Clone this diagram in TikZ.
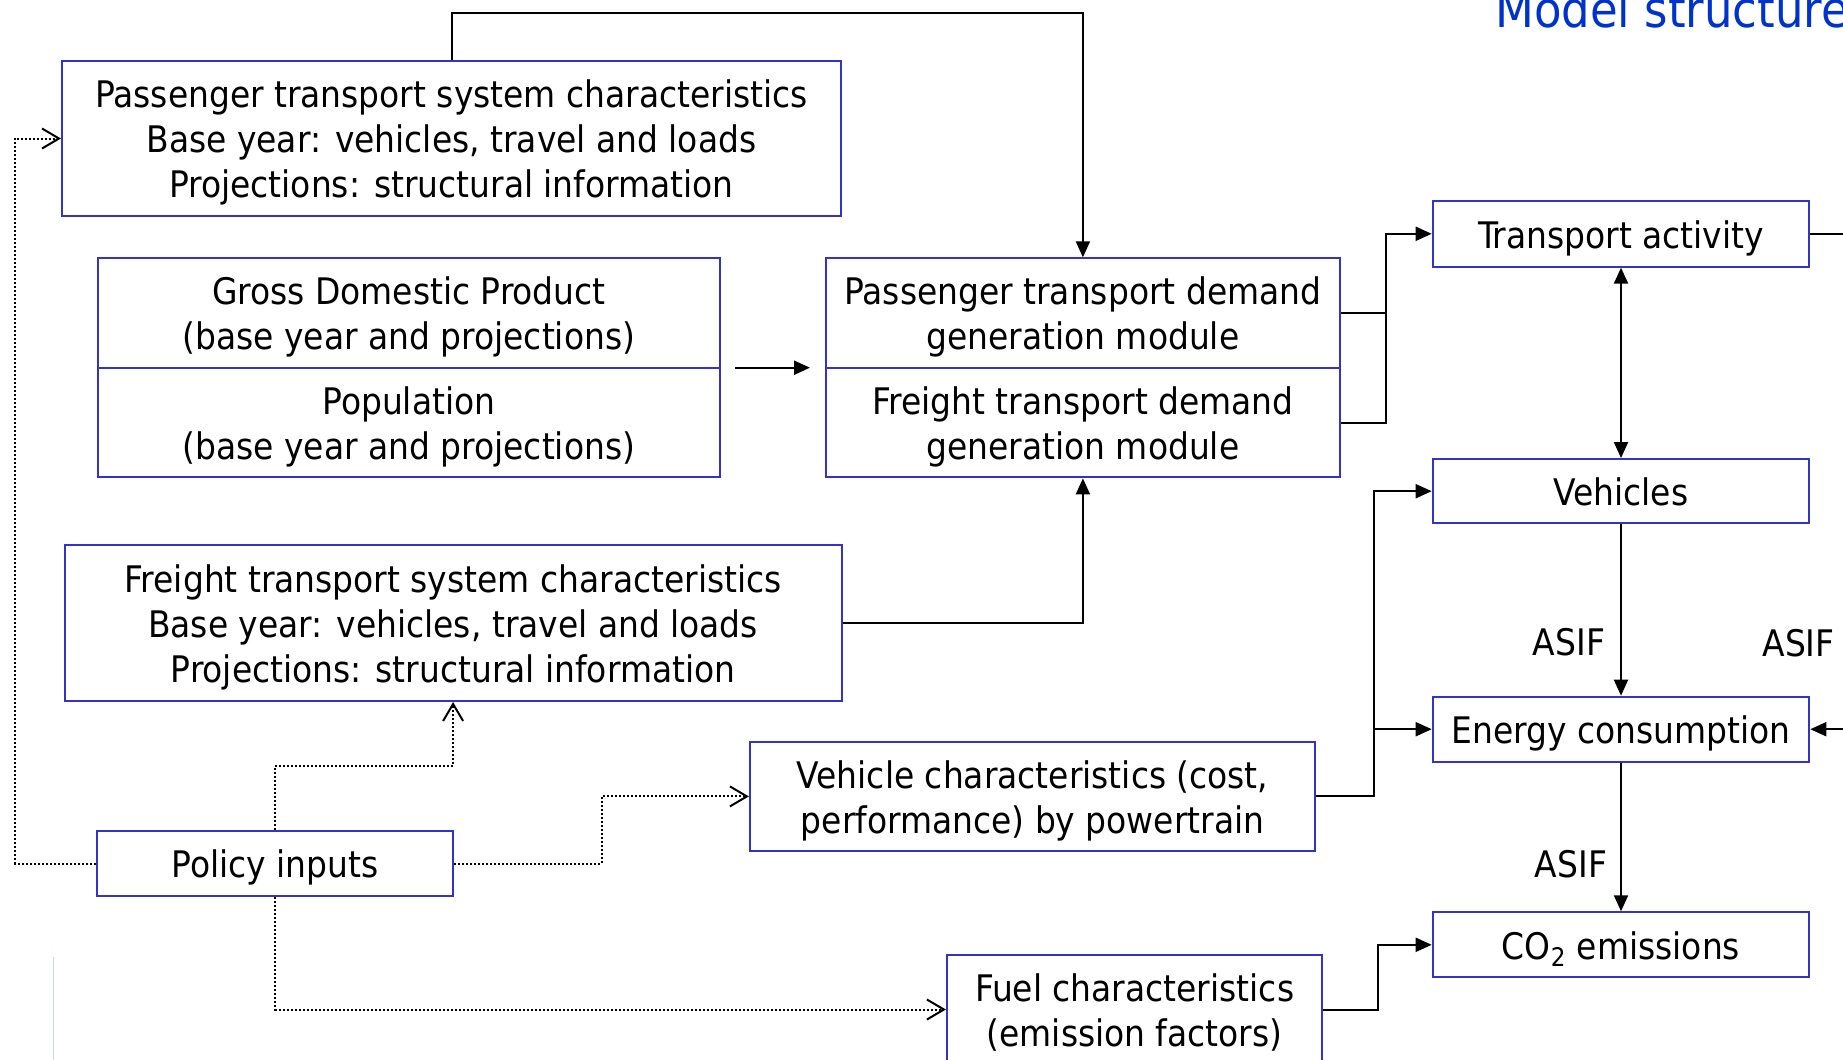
\documentclass[tikz,border=0pt]{standalone}
\usepackage{fontspec}
\setmainfont{DejaVu Sans Condensed}
\usetikzlibrary{arrows.meta}
\definecolor{boxblue}{RGB}{51,51,204}
\definecolor{titleblue}{RGB}{0,51,204}
\definecolor{faintblue}{RGB}{190,225,235}
\newcommand\myTopStrut{\rule{0pt}{19.2pt}}
\newcommand\myBotStrut{\rule[-5pt]{0pt}{5pt}}
\tikzset{
  box/.style={draw=boxblue, line width=1pt, fill=white, inner sep=0pt, align=center,
    font=\fontsize{18.3}{22.5}\selectfont},
  plain/.style={draw=black, line width=1pt},
  conn/.style={plain, -{Triangle[length=8pt,width=7pt]}},
  dconn/.style={plain, {Triangle[length=8pt,width=7pt]}-{Triangle[length=8pt,width=7pt]}},
  dotconn/.style={draw=black, line width=1pt, dash pattern=on 1pt off 1pt,
    -{Straight Barb[length=8.5pt,width=10pt,line width=1pt]}},
  lbl/.style={inner sep=0pt, font=\fontsize{18.3}{22.5}\selectfont},
}
\begin{document}
\begin{tikzpicture}[x=0.5pt,y=-0.5pt]
\useasboundingbox (0,0) rectangle (1843,1060);
\fill[white] (0,0) rectangle (1843,1060);
\clip (0,0) rectangle (1843,1060);

% title
\node[anchor=base west, inner sep=0pt, text=titleblue, font=\fontsize{25}{29}\selectfont] (title) at (1495,27) {Model structure};

% boxes
\node[box, minimum width=389.5pt, minimum height=77.5pt] (psys) at (451.5,138.5)
  {\myTopStrut Passenger transport system characteristics\\Base year: vehicles, travel and loads\\Projections: structural information\myBotStrut};
\node[box, minimum width=311.25pt, minimum height=54.7pt] (gdp) at (408.9,313)
  {\myTopStrut Gross Domestic Product\\(base year and projections)\myBotStrut};
\node[box, minimum width=311.25pt, minimum height=54.8pt] (pop) at (408.9,422.6)
  {\myTopStrut Population\\(base year and projections)\myBotStrut};
\node[box, minimum width=257.1pt, minimum height=54.7pt] (pdem) at (1082.9,313)
  {\myTopStrut Passenger transport demand\\generation module\myBotStrut};
\node[box, minimum width=257.1pt, minimum height=54.8pt] (fdem) at (1082.9,422.6)
  {\myTopStrut Freight transport demand\\generation module\myBotStrut};
\node[box, minimum width=388.5pt, minimum height=78pt] (fsys) at (453.1,623)
  {\myTopStrut Freight transport system characteristics\\Base year: vehicles, travel and loads\\Projections: structural information\myBotStrut};
\node[box, minimum width=188.3pt, minimum height=32.85pt] (trans) at (1621,233.8) {\myTopStrut Transport activity\myBotStrut};
\node[box, minimum width=188.3pt, minimum height=32.15pt] (veh) at (1621,491.2) {\myTopStrut Vehicles\myBotStrut};
\node[box, minimum width=188.3pt, minimum height=32.5pt] (energy) at (1621,729.2) {\myTopStrut Energy consumption\myBotStrut};
\node[box, minimum width=188.3pt, minimum height=32.5pt] (co2) at (1621,944.8) {\myTopStrut CO\textsubscript{2} emissions\myBotStrut};
\node[box, minimum width=282.7pt, minimum height=54.65pt] (vehcar) at (1032.6,796.4)
  {\myTopStrut Vehicle characteristics (cost,\\performance) by powertrain\myBotStrut};
\node[box, minimum width=178.3pt, minimum height=32.5pt] (pol) at (275,863.5) {\myTopStrut Policy inputs\myBotStrut};
\node[box, minimum width=187.7pt, minimum height=55pt] (fuel) at (1134.6,1009.5)
  {\myTopStrut Fuel characteristics\\(emission factors)\myBotStrut};

% free coordinates
\coordinate (ga) at (734.9,367.7);
\coordinate (gb) at (810,367.7);
\coordinate (redge1) at (1843,233.8);
\coordinate (redge2) at (1843,729.2);
\coordinate (dj) at (1386.4,313);
\coordinate (vj) at (1374.4,729.2);

% solid connectors
\draw[conn] (psys.north) -- (451.5,13.3) -| (pdem.north);
\draw[conn] (fsys.east) -| (fdem.south);
\draw[conn] (ga) -- (gb);
\draw[plain] (pdem.east) -- (dj);
\draw[conn] (fdem.east) -| (dj) |- (trans.west);
\draw[dconn] (trans.south) -- (veh.north);
\draw[conn] (veh.south) -- node[lbl, pos=0.69, anchor=east, xshift=-7.5pt] (asif1) {ASIF} (energy.north);
\draw[conn] (energy.south) -- node[lbl, pos=0.68, anchor=east, xshift=-6.5pt] (asif2) {ASIF} (co2.north);
\node[lbl, anchor=east] (asif3) at (1835,643) {ASIF};
\draw[plain] (trans.east) -- (redge1);
\draw[conn] (redge2) -- (energy.east);
\draw[conn] (vehcar.east) -- (1374.4,796.4) |- (veh.west);
\draw[conn] (vj) -- (energy.west);
\draw[conn] (fuel.east) -- (1378,1009.5) |- (co2.west);

% dotted connectors from policy inputs
\draw[dotconn] (pol.west) -- (15,863.5) |- (psys.west);
\draw[dotconn] (pol.north) -- (275,766) -| (fsys.south);
\draw[dotconn] (pol.east) -- (601.8,863.5) |- (vehcar.west);
\draw[dotconn] (pol.south) |- (fuel.west);

% faint slide line
\draw[faintblue, line width=0.5pt] (53,957) -- (53,1060);
\end{tikzpicture}
\end{document}
